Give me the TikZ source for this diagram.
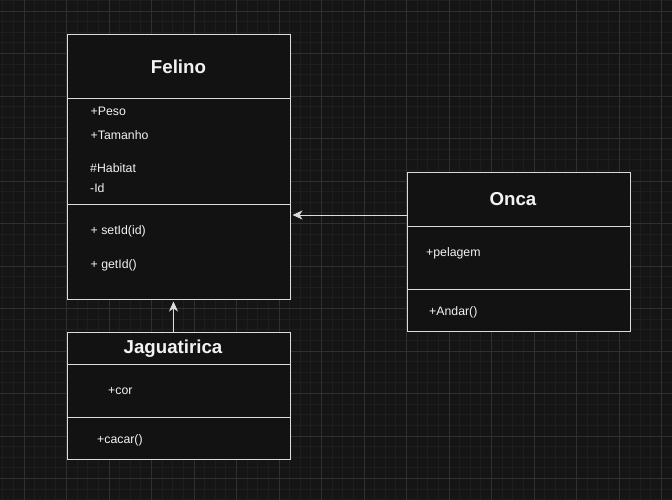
\documentclass[tikz,border=0pt]{standalone}
\usepackage{fontspec}
\setmainfont{Liberation Sans}
\usetikzlibrary{arrows.meta}
\definecolor{CanvasBg}{HTML}{151515}
\definecolor{GridMinor}{HTML}{1E1E1E}
\definecolor{GridMajor}{HTML}{303030}
\definecolor{BoxFill}{HTML}{121212}
\definecolor{BoxLine}{HTML}{DCDCDC}
\definecolor{TextWhite}{HTML}{F2F2F2}

\begin{document}
\begin{tikzpicture}[x=1pt, y=-1pt,
  compart/.style   = {draw=BoxLine, fill=BoxFill, line width=1pt,
                      minimum width=223pt, inner sep=0pt, anchor=north west},
  classname/.style = {font=\bfseries\fontsize{18.7}{20}\selectfont,
                      text=TextWhite, anchor=base, inner sep=0pt},
  member/.style    = {font=\fontsize{12.3}{14}\selectfont,
                      text=TextWhite, anchor=base west, inner sep=0pt},
  minorgrid/.style = {GridMinor, line width=0.8pt},
  majorgrid/.style = {GridMajor, line width=0.9pt},
  arr/.style       = {-{Stealth[length=10pt, width=9pt, inset=3pt]}, line width=1pt,
                      BoxLine, shorten >=1.5pt}
]
  \useasboundingbox (0,0) rectangle (672,500);
  \fill[CanvasBg] (0,0) rectangle (672,500);

  % grid
  \foreach \k in {-2,...,64}{
    \draw[minorgrid] ({24+\k*10.625},0) -- ++(0,500);
  }
  \foreach \k in {-1,...,47}{
    \draw[minorgrid] (0,{11+\k*10.625}) -- ++(672,0);
  }
  \foreach \k in {0,...,15}{
    \draw[majorgrid] ({24+\k*42.5},0) -- ++(0,500);
  }
  \foreach \k in {0,...,11}{
    \draw[majorgrid] (0,{11+\k*42.5}) -- ++(672,0);
  }

  % Felino
  \node[compart, minimum height=64pt]  (felinoHead)  at (67,34)  {};
  \node[compart, minimum height=106pt] (felinoAttrs) at (67,98)  {};
  \node[compart, minimum height=95pt]  (felinoOps)   at (67,204) {};
  \node[classname] (felinoName) at (178.5,73.3) {Felino};
  \node[member] (peso)     at (90.5,115.5) {+Peso};
  \node[member] (tamanho)  at (90.5,140)   {+Tamanho};
  \node[member] (habitat)  at (90,172)     {\#Habitat};
  \node[member] (ident)    at (90,192.5)   {-Id};
  \node[member] (setid)    at (90.5,234)   {+ setId(id)};
  \node[member] (getid)    at (90.5,268)   {+ getId()};

  % Onca
  \node[compart, minimum height=54pt] (oncaHead)  at (407,172) {};
  \node[compart, minimum height=63pt] (oncaAttrs) at (407,226) {};
  \node[compart, minimum height=42pt] (oncaOps)   at (407,289) {};
  \node[classname] (oncaName) at (513,205.3) {Onca};
  \node[member] (pelagem) at (426,256.5) {+pelagem};
  \node[member] (andar)   at (429,315)   {+Andar()};

  % Jaguatirica
  \node[compart, minimum height=32pt] (jagHead)  at (67,332) {};
  \node[compart, minimum height=53pt] (jagAttrs) at (67,364) {};
  \node[compart, minimum height=42pt] (jagOps)   at (67,417) {};
  \node[classname] (jagName) at (173,353.7) {Jaguatirica};
  \node[member] (cor)   at (108,394.3) {+cor};
  \node[member] (cacar) at (97,443)    {+cacar()};

  % heranca
  \coordinate (oncaOut) at ([yshift=12pt]oncaHead.south west);
  \coordinate (jagOut)  at ([xshift=-5.5pt]jagHead.north);
  \draw[arr] (oncaOut) -- (felinoOps.east |- oncaOut);
  \draw[arr] (jagOut) -- (felinoOps.south -| jagOut);
\end{tikzpicture}
\end{document}
